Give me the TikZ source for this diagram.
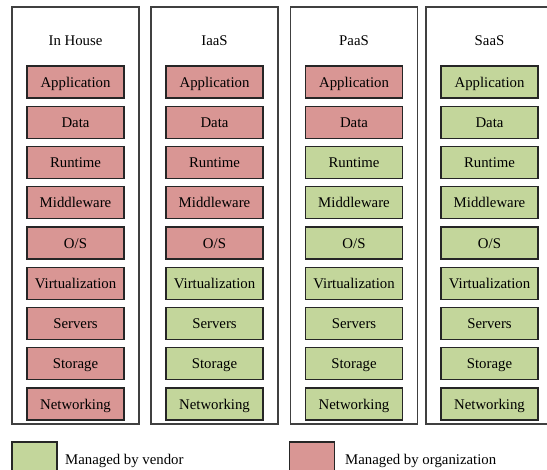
\documentclass[tikz,border=0pt]{standalone}
\usepackage{fontspec}
\setmainfont{Liberation Serif}
\definecolor{orgred}{HTML}{D99694}
\definecolor{vendgreen}{HTML}{C3D69B}
\definecolor{outerline}{HTML}{404040}
\definecolor{innerline}{HTML}{262626}
\tikzset{
  colbox/.style={draw=outerline, line width=1.1pt, fill=white, minimum width=127pt, minimum height=417pt, inner sep=0pt},
  layerbox/.style={draw=innerline, line width=1.3pt, minimum width=97pt, minimum height=32pt, inner sep=0pt, text height=10.5pt, text depth=0pt, font=\fontsize{14.8}{17}\selectfont},
  orgbox/.style={layerbox, fill=orgred},
  vendbox/.style={layerbox, fill=vendgreen},
  coltitle/.style={font=\fontsize{14.8}{17}\selectfont, inner sep=0pt, text height=10.5pt, text depth=0pt},
  legbox/.style={draw=innerline, line width=1.3pt, minimum width=45pt, minimum height=45pt, inner sep=0pt},
  legtext/.style={font=\fontsize{14.8}{17}\selectfont, inner sep=0pt, anchor=base west}
}
\begin{document}
\begin{tikzpicture}[x=1pt,y=-1pt]
\useasboundingbox (0,0) rectangle (547,470);
\clip (0,0) rectangle (547,470);
% columns
\foreach \c/\x/\t/\n in {1/75.5/In House/9, 2/214.5/IaaS/5, 3/354/PaaS/2, 4/489.5/SaaS/0}{
  \node[colbox] (col\c) at (\x,215.5) {};
  \node[coltitle] (title\c) at (\x,40) {\t};
  \foreach \i/\l in {1/Application, 2/Data, 3/Runtime, 4/Middleware, 5/{O/S}, 6/Virtualization, 7/Servers, 8/Storage, 9/Networking}{
    \pgfmathsetmacro{\yy}{82+40.25*(\i-1)}
    \ifnum\i>\n
      \node[vendbox] (c\c-\i) at (\x,\yy) {\l};
    \else
      \node[orgbox] (c\c-\i) at (\x,\yy) {\l};
    \fi
  }
}
% legend
\node[legbox, fill=vendgreen] (legv) at (34.5,464.5) {};
\node[legtext] (legvt) at (65,465) {Managed by vendor};
\node[legbox, fill=orgred] (lego) at (312,464.5) {};
\node[legtext] (legot) at (345,465) {Managed by organization};
\end{tikzpicture}
\end{document}
